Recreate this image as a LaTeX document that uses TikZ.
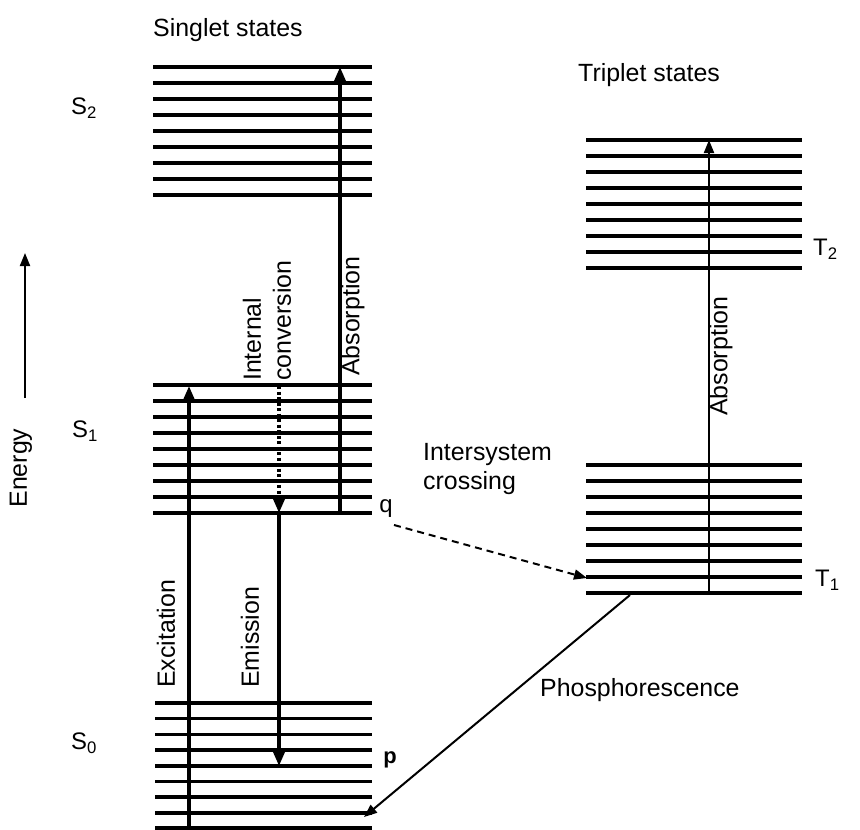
\documentclass[tikz,border=0pt]{standalone}
\usepackage{fontspec}
\setmainfont{Liberation Sans}
\usetikzlibrary{arrows.meta}
\begin{document}
\begin{tikzpicture}[x=1bp,y=-1bp,
  lab/.style={font=\fontsize{25}{30}\selectfont, inner sep=0pt},
  sublab/.style={font=\fontsize{24}{28}\selectfont, inner sep=0pt},
  bigtip/.style={-{Triangle[length=14bp,width=11bp]}},
  smalltip/.style={-{Triangle[length=13bp,width=10bp]}},
  heavy/.style={line width=3.2bp, bigtip},
  light/.style={line width=2bp, smalltip}]
\useasboundingbox (0,0) rectangle (860,830);

% energy levels
\foreach \x/\xx/\yy/\dy in {153/372/67/16, 153/372/385/16, 155/372/703/15.7, 586/802/140/16, 586/802/465/16}{
  \foreach \i in {0,...,8}{
    \pgfmathsetmacro\lw{(mod(\i,4)==0)?4.4:3.5}
    \pgfmathsetmacro\yv{\yy+\dy*\i}
    \draw[line width=\lw bp] (\x,\yv) -- (\xx,\yv);
  }
}

% named end points
\coordinate (excA) at (189,830);
\coordinate (excB) at (189,386);
\coordinate (absA) at (340,513);
\coordinate (absB) at (340,67);
\coordinate (icA) at (279,386);
\coordinate (icB) at (279,513);
\coordinate (emA) at (279,513);
\coordinate (emB) at (279,766);
\coordinate (iscA) at (394,525);
\coordinate (iscB) at (587,578);
\coordinate (phA) at (630,595);
\coordinate (phB) at (364,817);
\coordinate (tabA) at (709,593);
\coordinate (tabB) at (709,140);
\coordinate (enA) at (25,398);
\coordinate (enB) at (25,253);

\draw[heavy] (excA) -- (excB);
\draw[heavy] (absA) -- (absB);
\draw[heavy, dash pattern=on 3bp off 2.5bp] (icA) -- (icB);
\draw[heavy] (emA) -- (emB);
\draw[light, dash pattern=on 7bp off 5bp] (iscA) -- (iscB);
\draw[light] (phA) -- (phB);
\draw[light] (tabA) -- (tabB);
\draw[light] (enA) -- (enB);

% labels
\node[lab, anchor=west] (singlet) at (153,30) {Singlet states};
\node[lab, anchor=west] (triplet) at (578,75) {Triplet states};
\node[sublab, anchor=west] (S2) at (71,108) {S\textsubscript{2}};
\node[sublab, anchor=west] (S1) at (72,431) {S\textsubscript{1}};
\node[sublab, anchor=west] (S0) at (71,743) {S\textsubscript{0}};
\node[sublab, anchor=west] (T2) at (813,249) {T\textsubscript{2}};
\node[sublab, anchor=west] (T1) at (815,580) {T\textsubscript{1}};
\node[sublab] (q) at (386,509) {q};
\node[sublab, font=\fontsize{22}{26}\selectfont\bfseries] (p) at (390,760) {p};
\node[lab, rotate=90] (energy) at (21,468) {Energy};
\node[lab, rotate=90, anchor=west, align=left] (ic) at (267,381) {Internal\\conversion};
\node[lab, rotate=90, anchor=west] (absS) at (353,376) {Absorption};
\node[lab, rotate=90, anchor=west] (exc) at (166,688) {Excitation};
\node[lab, rotate=90, anchor=west] (em) at (250,688) {Emission};
\node[lab, rotate=90, anchor=west] (absT) at (721,416) {Absorption};
\node[lab, anchor=west, align=left] (isc) at (423,469) {Intersystem\\crossing};
\node[lab, anchor=west] (phos) at (540,690) {Phosphorescence};
\end{tikzpicture}
\end{document}
